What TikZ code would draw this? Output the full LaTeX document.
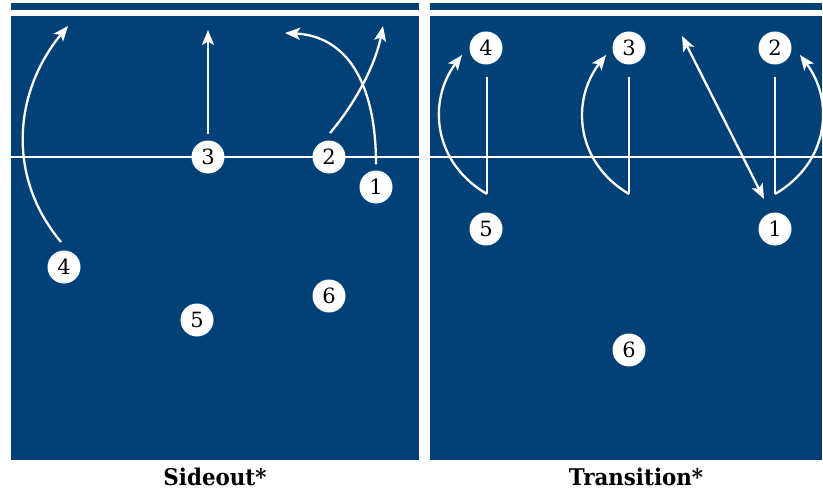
\documentclass[tikz,border=0pt]{standalone}
\usepackage{fontspec}
\setmainfont{DejaVu Serif}
\newfontfamily\titlefont[FakeStretch=0.93]{DejaVu Serif}
\usetikzlibrary{arrows.meta}
\definecolor{court}{RGB}{1,65,120}
\begin{document}
\begin{tikzpicture}[x=1pt,y=-1pt,
  player/.style={circle,fill=white,minimum size=33pt,inner sep=0pt,font=\fontsize{21}{21}\selectfont},
  move/.style={white,line width=2.3pt,-{Stealth[length=15pt,width=12pt,inset=3.5pt]}},
  plain/.style={white,line width=2.3pt},
  title/.style={font=\titlefont\fontsize{23}{25}\selectfont\bfseries}]
\useasboundingbox (0,0) rectangle (823,495);
% left court
\fill[court] (11,3) rectangle (419,10);
\fill[court] (11,16) rectangle (419,460);
\draw[plain,line width=2.6pt] (11,157) -- (419,157);
% right court
\fill[court] (430,3) rectangle (822,10);
\fill[court] (430,16) rectangle (822,460);
\draw[plain,line width=2.6pt] (430,157) -- (822,157);
% left players
\node[player] (L3) at (208,157) {3};
\node[player] (L2) at (329,157) {2};
\node[player] (L1) at (376,187) {1};
\node[player] (L4) at (64,267) {4};
\node[player] (L5) at (197,320) {5};
\node[player] (L6) at (329,296) {6};
\coordinate (L3t) at (208,30);
\coordinate (L2t) at (383,26);
\coordinate (L1t) at (285,33);
\coordinate (L4t) at (68,26);
\draw[move] (L3.north) ++(0,-6) -- (L3t);
\draw[move] (L2) ++(1,-24) .. controls (358,100) and (376,62) .. (L2t);
\draw[move] (L1.north) ++(0,-6) .. controls (376,80) and (345,36) .. (L1t);
\draw[move] (L4) ++(-3,-25) .. controls (5,175) and (15,90) .. (L4t);
% right players
\node[player] (R4) at (486,48) {4};
\node[player] (R3) at (629,48) {3};
\node[player] (R2) at (775,48) {2};
\node[player] (R5) at (486,229) {5};
\node[player] (R1) at (775,229) {1};
\node[player] (R6) at (629,350) {6};
\coordinate (R4b) at (487,194);
\coordinate (R3b) at (629,194);
\coordinate (R2b) at (775,194);
\coordinate (R4t) at (462,55);
\coordinate (R3t) at (606,55);
\coordinate (R2t) at (800,55);
\coordinate (Rx) at (682,36);
\coordinate (Ry) at (764,199);
\draw[plain] (487,77) -- (R4b);
\draw[plain] (629,77) -- (R3b);
\draw[plain] (775,77) -- (R2b);
\draw[move] (R4b) .. controls (432,162) and (428,100) .. (R4t);
\draw[move] (R3b) .. controls (575,162) and (571,100) .. (R3t);
\draw[move] (R2b) .. controls (830,162) and (834,100) .. (R2t);
\draw[move,{Stealth[length=15pt,width=12pt,inset=3.5pt]}-{Stealth[length=15pt,width=12pt,inset=3.5pt]}] (Rx) -- (Ry);
% titles
\node[title] (T1) at (215,477) {Sideout*};
\node[title] (T2) at (636,477) {Transition*};
\end{tikzpicture}
\end{document}
